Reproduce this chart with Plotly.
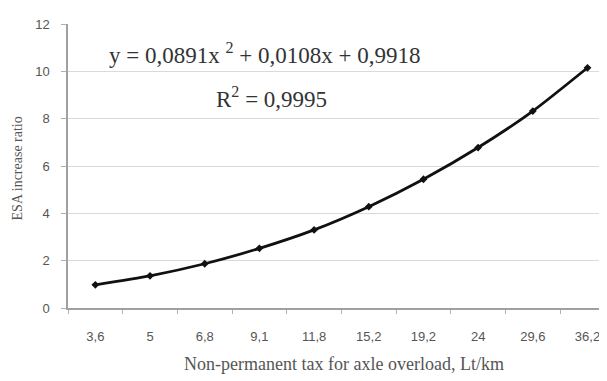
import plotly.graph_objects as go

categories = ["3,6", "5", "6,8", "9,1", "11,8", "15,2", "19,2", "24", "29,6", "36,2"]
esa_ratio = [0.98, 1.36, 1.87, 2.52, 3.3, 4.28, 5.44, 6.78, 8.32, 10.15]
y_ticks = [0, 2, 4, 6, 8, 10, 12]
equation = "y = 0,0891x <sup>2</sup> + 0,0108x + 0,9918"
r_squared = "R<sup>2</sup> = 0,9995"
x_title = "Non-permanent tax for axle overload, Lt/km"
y_title = "ESA increase ratio"

# page offset of the plot div (body margin)
OFF = 8
W, H = 607, 381
l, r, t, b = 60, 10, 9, 81
pw, ph = W - l - r, H - t - b


def to_paper(px, py):
    return (px - OFF - l) / pw, 1 - (py - OFF - t) / ph


fig = go.Figure()
fig.add_trace(go.Scatter(
    x=categories, y=esa_ratio, mode="lines+markers",
    line=dict(color="#111111", width=2.8, shape="spline", smoothing=0.6),
    marker=dict(symbol="diamond", size=6, color="#111111"),
    showlegend=False, hoverinfo="x+y",
))

ex, ey = to_paper(107, 47)
rx, ry = to_paper(271, 92)
tx, ty = to_paper(344, 365)
yx, yy = to_paper(17, 165)

fig.update_layout(
    width=W, height=H,
    margin=dict(l=l, r=r, t=t, b=b),
    plot_bgcolor="white", paper_bgcolor="white",
    font=dict(family="Liberation Serif", color="#444444"),
    xaxis=dict(
        type="category", range=[-0.5, 9.32],
        showgrid=False, showline=True, linecolor="#a0a0a0", linewidth=1.5,
        ticks="outside", tickson="boundaries", ticklen=4, tickcolor="#b0b0b0",
        tickfont=dict(family="Liberation Sans", size=13, color="#555555"),
        ticklabelstandoff=16,
    ),
    yaxis=dict(
        range=[0, 12], tickvals=y_ticks,
        showgrid=True, gridcolor="#dadada", gridwidth=1,
        showline=True, linecolor="#a0a0a0", linewidth=1.5,
        ticks="outside", ticklen=5, tickcolor="#b0b0b0",
        tickfont=dict(family="Liberation Sans", size=13, color="#555555"),
        ticklabelstandoff=9,
        zeroline=False,
    ),
    annotations=[
        dict(text=equation, x=ex, y=ey, xref="paper", yref="paper", showarrow=False,
             xanchor="left", yanchor="middle",
             font=dict(family="Liberation Serif", size=23, color="#333333")),
        dict(text=r_squared, x=rx, y=ry, xref="paper", yref="paper", showarrow=False,
             xanchor="center", yanchor="middle",
             font=dict(family="Liberation Serif", size=23, color="#333333")),
        dict(text=x_title, x=tx, y=ty, xref="paper", yref="paper", showarrow=False,
             xanchor="center", yanchor="middle",
             font=dict(family="Liberation Serif", size=18, color="#555555")),
        dict(text=y_title, x=yx, y=yy, xref="paper", yref="paper", showarrow=False,
             xanchor="center", yanchor="middle", textangle=-90,
             font=dict(family="Liberation Serif", size=14, color="#555555")),
    ],
)

fig.write_html("out.html")
